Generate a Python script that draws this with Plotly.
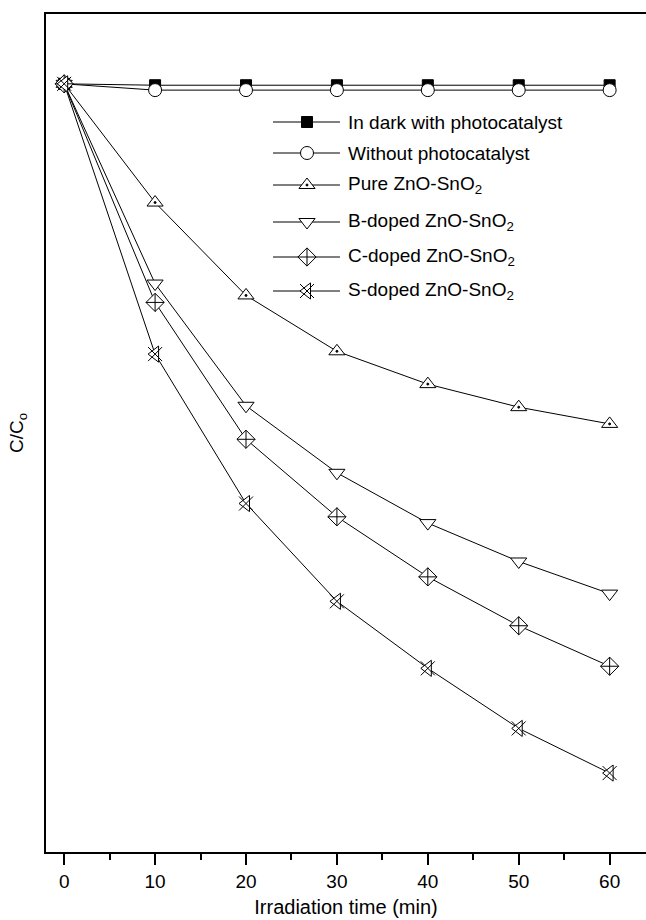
import plotly.graph_objects as go

time_min = [0, 10, 20, 30, 40, 50, 60]
dark = [1.0, 0.998, 0.998, 0.998, 0.998, 0.998, 0.998]
without = [1.0, 0.991, 0.991, 0.991, 0.991, 0.991, 0.991]
pure = [1.0, 0.830, 0.697, 0.617, 0.570, 0.537, 0.513]
b_doped = [1.0, 0.714, 0.539, 0.443, 0.371, 0.316, 0.270]
c_doped = [1.0, 0.687, 0.491, 0.380, 0.294, 0.224, 0.166]
s_doped = [1.0, 0.613, 0.399, 0.259, 0.163, 0.077, 0.013]

series_names = ["In dark with photocatalyst", "Without photocatalyst",
                "Pure ZnO-SnO<sub>2</sub>", "B-doped ZnO-SnO<sub>2</sub>",
                "C-doped ZnO-SnO<sub>2</sub>", "S-doped ZnO-SnO<sub>2</sub>"]
series_values = [dark, without, pure, b_doped, c_doped, s_doped]
x_ticks = [0, 10, 20, 30, 40, 50, 60]

# marker styles: list of (symbol, size, fillcolor) layers
styles = [
    [("square", 11, "black")],
    [("circle", 13, "white")],
    [("triangle-up", 14, "white"), ("circle", 2, "black")],
    [("triangle-down", 14, "white")],
    [("diamond-cross", 14, "white")],
    [("triangle-left", 14, "white"), ("x-thin", 14, "white")],
]

fig = go.Figure()
black = "black"
# lines first
for name, vals in zip(series_names, series_values):
    fig.add_trace(go.Scatter(x=time_min, y=vals, mode="lines",
                             line=dict(color=black, width=1), showlegend=False,
                             hoverinfo="skip"))
# markers on top
for name, vals, st in zip(series_names, series_values, styles):
    for sym, sz, fc in st:
        fig.add_trace(go.Scatter(x=time_min, y=vals, mode="markers",
                                 marker=dict(symbol=sym, size=sz, color=fc,
                                             line=dict(color=black, width=1)),
                                 showlegend=False, name=name))

# custom legend on a pixel-like overlay axis
legend_rows = [122, 153, 185, 222, 257, 291]
for name, st, ry in zip(series_names, styles, legend_rows):
    fig.add_trace(go.Scatter(x=[273, 340], y=[ry, ry], mode="lines",
                             line=dict(color=black, width=1), xaxis="x2", yaxis="y2",
                             showlegend=False, hoverinfo="skip"))
    for sym, sz, fc in st:
        fig.add_trace(go.Scatter(x=[307], y=[ry], mode="markers",
                                 marker=dict(symbol=sym, size=sz, color=fc,
                                             line=dict(color=black, width=1)),
                                 xaxis="x2", yaxis="y2", showlegend=False,
                                 hoverinfo="skip"))
    fig.add_annotation(x=346, y=ry, xref="x2", yref="y2", text=name,
                       showarrow=False, xanchor="left", yanchor="middle",
                       font=dict(size=19, color=black))

font_family = "Liberation Sans, Arial, sans-serif"
fig.update_layout(
    width=646, height=920,
    margin=dict(l=46, r=0, t=14, b=68),
    paper_bgcolor="white", plot_bgcolor="white",
    font=dict(family=font_family, size=19, color=black),
    showlegend=False,
    xaxis=dict(range=[-2, 64], tickvals=x_ticks, ticks="outside", ticklen=11,
               tickwidth=1.5, tickcolor=black, showline=True, linecolor=black,
               linewidth=1.5, mirror=True, showgrid=False, zeroline=False,
               minor=dict(tickvals=[5, 15, 25, 35, 45, 55], ticks="outside",
                          ticklen=6, tickwidth=1.5, tickcolor=black),
               title=dict(text="Irradiation time (min)", standoff=9,
                          font=dict(size=20)),
               tickfont=dict(size=19)),
    yaxis=dict(range=[-0.1, 1.1], showticklabels=False, ticks="",
               showline=True, linecolor=black, linewidth=1.5, mirror=False,
               showgrid=False, zeroline=False,
               title=dict(text="C/C<sub>o</sub>", standoff=16, font=dict(size=19))),
    xaxis2=dict(range=[46, 646], overlaying="x", visible=False, domain=[0, 1],
                anchor="y2"),
    yaxis2=dict(range=[852, 14], overlaying="y", visible=False, anchor="x2"),
)

fig.write_html("out.html", config={"displayModeBar": False},
               post_script="document.body.style.margin='0';")
